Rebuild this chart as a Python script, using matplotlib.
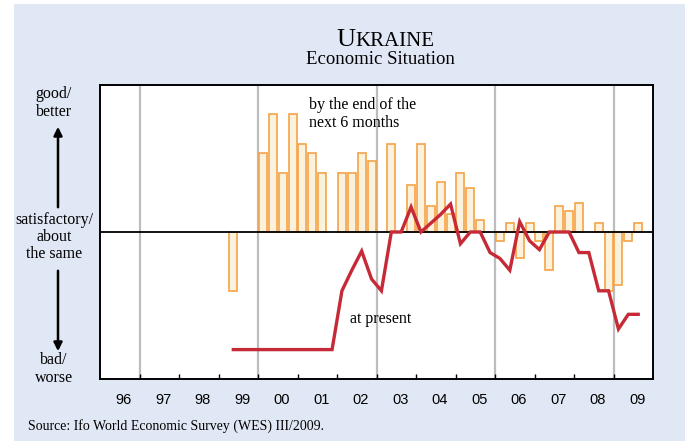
import numpy as np
import matplotlib.pyplot as plt
from matplotlib.patches import Rectangle, FancyArrowPatch

# WES Ukraine - economic situation, quarterly from 1999 Q2 to 2009 Q3
start_year = 1999.25
year_labels = ['96', '97', '98', '99', '00', '01', '02', '03', '04', '05', '06', '07', '08', '09']
first_year = 1996
grid_years = [1997, 2000, 2003, 2006, 2009]

# expectations: by the end of the next 6 months (bars)
expect = [-40, 0, 0,
          54, 80, 40, 80,
          60, 54, 40, 0,
          40, 40, 54, 48,
          0, 60, 0, 32,
          60, 18, 34, 12,
          40, 30, 8, 0,
          -6, 6, -18, 6,
          -6, -26, 18, 14,
          20, 0, 6, -40,
          -36, -6, 6]

# at present (line)
present = [-80, -80, -80,
           -80, -80, -80, -80,
           -80, -80, -80, -80,
           -40, -26, -13, -32,
           -40, 0, 0, 17,
           0, 6, 12, 19,
           -8, 0, 0, -14,
           -18, -26, 7, -6,
           -12, 0, 0, 0,
           -14, -14, -40, -40,
           -66, -56, -56]

W, H = 687, 441
fig = plt.figure(figsize=(W / 100, H / 100), dpi=100, facecolor='white')
fig.patches.append(Rectangle((14 / W, 0), (685 - 14) / W, (H - 4) / H,
                             transform=fig.transFigure, facecolor='#E1E8F5',
                             edgecolor='none', zorder=-5))

ax = fig.add_axes([100 / W, (H - 379) / H, (653 - 100) / W, (379 - 85) / H])
ax.set_zorder(2)
ax.set_facecolor('white')

n = len(expect)
x = start_year + 0.125 + 0.25 * np.arange(n)
expect = np.array(expect, dtype=float)
mask = expect != 0
ax.bar(x[mask], expect[mask], width=0.2, color='#FBF2DE', edgecolor='#F5A346',
       linewidth=1.2, zorder=2)
ax.axhline(0, color='black', lw=1.3, zorder=3)
ax.plot(x, present, color='#C62A36', lw=2.4, zorder=4, solid_joinstyle='miter')

for g in grid_years:
    ax.axvline(g, color='#BDBDBD', lw=1.6, zorder=1)

ax.set_xlim(first_year, first_year + len(year_labels))
ax.set_ylim(-100, 100)
ax.set_yticks([])
ax.set_xticks(np.arange(first_year + 1, first_year + len(year_labels)), minor=True)
ax.set_xticks(np.arange(first_year, first_year + len(year_labels)) + 0.6)
ax.set_xticklabels(year_labels, fontsize=10.5, family='Liberation Sans')
ax.tick_params(axis='x', which='major', length=0, pad=10)
ax.tick_params(axis='x', which='minor', direction='in', length=3.5, width=1, color='black')
for s in ax.spines.values():
    s.set_linewidth(1.4)
    s.set_color('black')

serif = 'Liberation Serif'
ax.text(2001.29, 92, 'by the end of the\nnext 6 months', fontsize=11.5, family=serif,
        ha='left', va='top', linespacing=1.15, zorder=5)
ax.text(2002.33, -59, 'at present', fontsize=11.5, family=serif, ha='left',
        va='center', zorder=5)

# title in small caps
base_y = 1 - 46 / H
fig.canvas.draw()
r = fig.canvas.get_renderer()
t1 = fig.text(0, base_y, 'U', fontsize=19, family=serif, va='baseline')
t2 = fig.text(0, base_y, 'KRAINE', fontsize=15, family=serif, va='baseline')
w1 = t1.get_window_extent(r).width / W
w2 = t2.get_window_extent(r).width / W
x0 = 385 / W - (w1 + w2) / 2
t1.set_x(x0)
t2.set_x(x0 + w1)
fig.text(380 / W, 1 - 59 / H, 'Economic Situation', fontsize=13.5, family=serif,
         ha='center', va='center')

# left side labels and arrows
lx = 54 / W
fig.text(lx, 1 - 103 / H, 'good/\nbetter', fontsize=11.5, family=serif, ha='center',
         va='center', linespacing=1.1)
fig.text(lx, 1 - 237 / H, 'satisfactory/\nabout\nthe same', fontsize=11.5, family=serif,
         ha='center', va='center', linespacing=1.1)
fig.text(lx, 1 - 369 / H, 'bad/\nworse', fontsize=11.5, family=serif, ha='center',
         va='center', linespacing=1.1)
ax_x = 58 / W
fig.patches.append(FancyArrowPatch(
    (ax_x, 1 - 210 / H), (ax_x, 1 - 124 / H), transform=fig.transFigure,
    arrowstyle='-|>,head_length=5,head_width=2.5', color='black', lw=1.8, zorder=3))
fig.patches.append(FancyArrowPatch(
    (ax_x, 1 - 268 / H), (ax_x, 1 - 354 / H), transform=fig.transFigure,
    arrowstyle='-|>,head_length=5,head_width=2.5', color='black', lw=1.8, zorder=3))

fig.text(28 / W, 1 - 426 / H, 'Source: Ifo World Economic Survey (WES) III/2009.',
         fontsize=10, family=serif, ha='left', va='center')

fig.savefig('out.png', dpi=100, facecolor='white')
